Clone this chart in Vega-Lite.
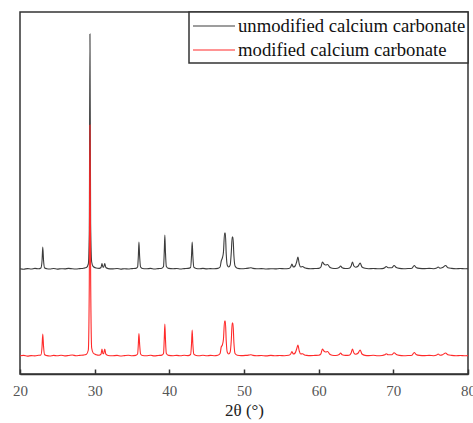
{
  "$schema": "https://vega.github.io/schema/vega-lite/v6.json",
  "width": 448,
  "height": 362,
  "autosize": {"type": "none"},
  "padding": {"left": 20, "top": 12, "right": 5, "bottom": 49},
  "config": {
    "view": {"stroke": "#333", "strokeWidth": 1.5},
    "font": "Liberation Serif"
  },
  "data": {"values": [
    {"t":20.0,"u":105.3,"m":18.2},{"t":20.5,"u":104.8,"m":18.6},{"t":21.0,"u":105.4,"m":17.9},{"t":21.5,"u":105.0,"m":18.4},
    {"t":22.0,"u":105.6,"m":18.1},{"t":22.5,"u":105.2,"m":18.7},{"t":22.8,"u":106.0,"m":19.0},{"t":22.95,"u":113,"m":27},
    {"t":23.05,"u":127,"m":40},{"t":23.15,"u":114,"m":28},{"t":23.3,"u":106,"m":19.2},{"t":23.6,"u":105.3,"m":18.4},
    {"t":24.0,"u":105.0,"m":18.0},{"t":24.5,"u":105.5,"m":18.6},{"t":25.0,"u":104.9,"m":18.2},{"t":25.5,"u":105.3,"m":18.8},
    {"t":26.0,"u":105.1,"m":18.1},{"t":26.5,"u":105.6,"m":18.5},{"t":27.0,"u":105.2,"m":19.0},{"t":27.5,"u":105.0,"m":18.3},
    {"t":28.0,"u":105.4,"m":18.6},{"t":28.5,"u":105.8,"m":18.9},{"t":28.9,"u":106.5,"m":19.8},{"t":29.15,"u":110,"m":24},
    {"t":29.28,"u":140,"m":90},{"t":29.37,"u":340,"m":249},{"t":29.46,"u":150,"m":100},{"t":29.6,"u":112,"m":26},
    {"t":29.8,"u":107.5,"m":21},{"t":30.2,"u":106,"m":19.3},{"t":30.6,"u":105.6,"m":18.8},{"t":30.85,"u":106.5,"m":19.8},
    {"t":30.98,"u":110.5,"m":25},{"t":31.1,"u":107,"m":20.5},{"t":31.2,"u":106.8,"m":20.2},{"t":31.35,"u":110.5,"m":25},
    {"t":31.5,"u":106.5,"m":19.8},{"t":31.8,"u":105.4,"m":18.5},{"t":32.3,"u":105.1,"m":18.2},{"t":33.0,"u":105.5,"m":18.6},
    {"t":33.5,"u":104.9,"m":18.0},{"t":34.0,"u":105.3,"m":18.4},{"t":34.5,"u":105.0,"m":18.7},{"t":35.0,"u":105.4,"m":18.2},
    {"t":35.5,"u":105.6,"m":18.6},{"t":35.75,"u":107,"m":20},{"t":35.85,"u":118,"m":30},{"t":35.93,"u":132,"m":40.5},
    {"t":36.02,"u":118,"m":30},{"t":36.15,"u":107,"m":20},{"t":36.4,"u":105.5,"m":18.5},{"t":36.9,"u":105.2,"m":18.3},
    {"t":37.5,"u":105.6,"m":18.7},{"t":38.0,"u":105.0,"m":18.1},{"t":38.5,"u":105.4,"m":18.5},{"t":39.0,"u":105.8,"m":18.9},
    {"t":39.22,"u":107.5,"m":20.5},{"t":39.32,"u":122,"m":35},{"t":39.4,"u":139,"m":50},{"t":39.48,"u":122,"m":35},
    {"t":39.6,"u":107.5,"m":20.5},{"t":39.9,"u":105.6,"m":18.6},{"t":40.5,"u":105.2,"m":18.3},{"t":41.0,"u":105.5,"m":18.6},
    {"t":41.5,"u":105.0,"m":18.2},{"t":42.0,"u":105.4,"m":18.7},{"t":42.5,"u":105.6,"m":18.4},{"t":42.85,"u":106.5,"m":19.5},
    {"t":42.97,"u":118,"m":30},{"t":43.06,"u":132,"m":44},{"t":43.15,"u":118,"m":30},{"t":43.28,"u":106.8,"m":19.8},
    {"t":43.6,"u":105.5,"m":18.5},{"t":44.0,"u":105.2,"m":18.3},{"t":44.5,"u":105.6,"m":18.7},{"t":45.0,"u":105.1,"m":18.2},
    {"t":45.5,"u":105.4,"m":18.6},{"t":46.0,"u":105.2,"m":18.3},{"t":46.5,"u":105.6,"m":18.8},{"t":46.8,"u":107,"m":20.5},
    {"t":46.95,"u":113,"m":27},{"t":47.1,"u":116,"m":29},{"t":47.25,"u":122,"m":35},{"t":47.4,"u":141,"m":53},
    {"t":47.5,"u":141,"m":53},{"t":47.62,"u":120,"m":33},{"t":47.75,"u":109,"m":22},{"t":47.95,"u":107,"m":20},
    {"t":48.15,"u":109,"m":22},{"t":48.3,"u":122,"m":34},{"t":48.42,"u":137,"m":51},{"t":48.52,"u":137,"m":51},
    {"t":48.65,"u":118,"m":31},{"t":48.8,"u":108,"m":20.5},{"t":49.1,"u":105.8,"m":18.8},{"t":49.6,"u":105.3,"m":18.4},
    {"t":50.2,"u":105.5,"m":18.6},{"t":50.6,"u":105.9,"m":18.9},{"t":50.9,"u":106.3,"m":19.3},{"t":51.2,"u":105.6,"m":18.6},
    {"t":51.7,"u":105.2,"m":18.2},{"t":52.3,"u":105.4,"m":18.5},{"t":53.0,"u":105.0,"m":18.1},{"t":53.6,"u":105.3,"m":18.6},
    {"t":54.2,"u":105.1,"m":18.2},{"t":54.8,"u":105.5,"m":18.5},{"t":55.4,"u":105.2,"m":18.3},{"t":56.0,"u":105.5,"m":18.7},
    {"t":56.25,"u":107,"m":20},{"t":56.42,"u":110,"m":22.5},{"t":56.6,"u":107,"m":20},{"t":56.85,"u":108,"m":21},
    {"t":57.05,"u":112,"m":25},{"t":57.22,"u":117,"m":29},{"t":57.4,"u":110,"m":23},{"t":57.6,"u":107,"m":20},
    {"t":57.85,"u":107.5,"m":20.3},{"t":58.1,"u":106.2,"m":19.1},{"t":58.4,"u":105.6,"m":18.6},{"t":58.9,"u":105.3,"m":18.4},
    {"t":59.5,"u":105.5,"m":18.6},{"t":60.0,"u":105.6,"m":18.8},{"t":60.3,"u":107,"m":20.2},{"t":60.5,"u":112,"m":25},
    {"t":60.7,"u":110,"m":23},{"t":60.95,"u":109,"m":22},{"t":61.2,"u":109.5,"m":22.5},{"t":61.45,"u":107,"m":20},
    {"t":61.8,"u":105.8,"m":18.8},{"t":62.3,"u":105.5,"m":18.5},{"t":62.75,"u":106.5,"m":19.4},{"t":62.93,"u":108,"m":21},
    {"t":63.15,"u":106.3,"m":19.2},{"t":63.6,"u":105.5,"m":18.6},{"t":64.1,"u":105.8,"m":18.8},{"t":64.35,"u":108,"m":21},
    {"t":64.52,"u":112,"m":25},{"t":64.72,"u":108,"m":21},{"t":64.95,"u":106.8,"m":19.7},{"t":65.3,"u":108,"m":21},
    {"t":65.55,"u":111,"m":24},{"t":65.8,"u":107,"m":20},{"t":66.2,"u":105.7,"m":18.6},{"t":66.7,"u":105.3,"m":18.4},
    {"t":67.3,"u":105.5,"m":18.7},{"t":67.9,"u":105.2,"m":18.2},{"t":68.5,"u":105.4,"m":18.5},{"t":68.85,"u":106.3,"m":19.2},
    {"t":69.05,"u":107.5,"m":20.3},{"t":69.3,"u":106.2,"m":19.2},{"t":69.8,"u":106.3,"m":19.2},{"t":70.1,"u":108.5,"m":21.3},
    {"t":70.4,"u":106.5,"m":19.5},{"t":70.8,"u":105.6,"m":18.6},{"t":71.4,"u":105.3,"m":18.3},{"t":72.0,"u":105.5,"m":18.5},
    {"t":72.5,"u":105.8,"m":18.8},{"t":72.8,"u":108.5,"m":21.5},{"t":73.05,"u":106.5,"m":19.5},{"t":73.5,"u":105.6,"m":18.6},
    {"t":74.2,"u":105.4,"m":18.4},{"t":74.8,"u":105.6,"m":18.6},{"t":75.4,"u":105.3,"m":18.3},{"t":75.8,"u":106,"m":19},
    {"t":76.0,"u":107,"m":20},{"t":76.25,"u":105.8,"m":18.8},{"t":76.6,"u":106.5,"m":19.3},{"t":77.0,"u":108.5,"m":21},
    {"t":77.3,"u":106.3,"m":19.2},{"t":77.8,"u":105.6,"m":18.6},{"t":78.4,"u":105.3,"m":18.3},{"t":79.0,"u":105.5,"m":18.5},
    {"t":79.5,"u":105.2,"m":18.2},{"t":80.0,"u":105.4,"m":18.4}
  ]},
  "encoding": {
    "x": {
      "field": "t", "type": "quantitative",
      "scale": {"domain": [20, 80], "nice": false, "zero": false},
      "axis": {
        "title": "2θ (°)", "values": [20, 30, 40, 50, 60, 70, 80], "grid": false,
        "domainColor": "#333", "domainWidth": 1.5,
        "tickColor": "#333", "tickWidth": 1.5, "tickSize": -5,
        "labelFont": "Liberation Serif", "labelFontSize": 15, "labelColor": "#555", "labelPadding": 14,
        "labelFlush": false, "labelOverlap": false,
        "titleFont": "Liberation Serif", "titleFontSize": 17, "titleFontWeight": "normal", "titleColor": "#222", "titlePadding": 4
      }
    }
  },
  "layer": [
    {
      "mark": {"type": "line", "strokeWidth": 1.1, "interpolate": "monotone"},
      "encoding": {
        "y": {"field": "u", "type": "quantitative", "scale": {"domain": [0, 362], "nice": false}, "axis": null},
        "color": {"datum": "unmodified calcium carbonate"}
      }
    },
    {
      "mark": {"type": "line", "strokeWidth": 1.1, "interpolate": "monotone"},
      "encoding": {
        "y": {"field": "m", "type": "quantitative", "scale": {"domain": [0, 362], "nice": false}, "axis": null},
        "color": {
          "datum": "modified calcium carbonate",
          "scale": {"domain": ["unmodified calcium carbonate", "modified calcium carbonate"], "range": ["#3c3c3c", "#ff2a2a"]},
          "legend": {
            "title": null, "orient": "top-right", "offset": 0,
            "strokeColor": "#333", "fillColor": "white",
            "padding": 2.5, "rowPadding": 2,
            "symbolType": "M-2,0H2", "symbolSize": 441, "symbolStrokeWidth": 1.2, "symbolOffset": 11,
            "labelFont": "Liberation Serif", "labelFontSize": 18.7, "labelColor": "#111", "labelOffset": 12.5, "labelLimit": 400,
            "encode": {"legend": {"update": {"strokeWidth": {"value": 1.5}}}}
          }
        }
      }
    }
  ]
}
